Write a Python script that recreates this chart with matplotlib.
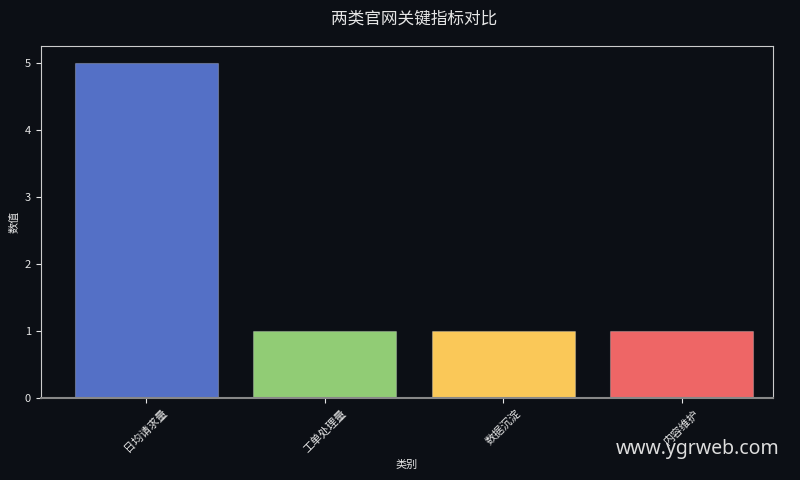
import matplotlib
matplotlib.use("Agg")
import matplotlib.pyplot as plt

plt.rcParams['font.family'] = ['Noto Sans CJK SC', 'DejaVu Sans']

categories = ["日均请求量", "工单处理量", "数据沉淀", "内容维护"]
values = [5, 1, 1, 1]
colors = ["#5470c6", "#91cc75", "#fac858", "#ee6666"]

bg = "#0c0f15"
fg = "#e6e6e6"

fig = plt.figure(figsize=(8, 4.8), dpi=100, facecolor=bg)
ax = fig.add_axes([0.051, 0.171, 0.915, 0.733])
ax.set_facecolor(bg)

x = list(range(len(categories)))
ax.bar(x, values, width=0.8, color=colors, edgecolor=(1, 1, 1, 0.25), linewidth=0.8, zorder=2)

ax.set_xticks(x)
ax.set_xticklabels(categories, rotation=45, fontsize=8, color=fg)
ax.set_yticks([0, 1, 2, 3, 4, 5])
ax.tick_params(axis='y', labelsize=8, colors=fg)
ax.tick_params(axis='x', colors=fg)
ax.set_xlim(-0.59, 3.51)
ax.set_ylim(0, 5.25)

for s in ['top', 'right', 'left']:
    ax.spines[s].set_color("#cccccc")
ax.spines['bottom'].set_color("#888888")
ax.spines['bottom'].set_linewidth(1.5)

ax.set_xlabel("类别", fontsize=8, color=fg)
ax.set_ylabel("数值", fontsize=8, color=fg)
fig.suptitle("两类官网关键指标对比", fontsize=12, color=fg, x=0.518, y=0.978)

fig.text(0.975, 0.065, "www.ygrweb.com", fontsize=14, color="#dddddd",
         ha='right', va='center', family=['Noto Sans', 'DejaVu Sans'])

fig.savefig("out.png", dpi=100, facecolor=bg)
